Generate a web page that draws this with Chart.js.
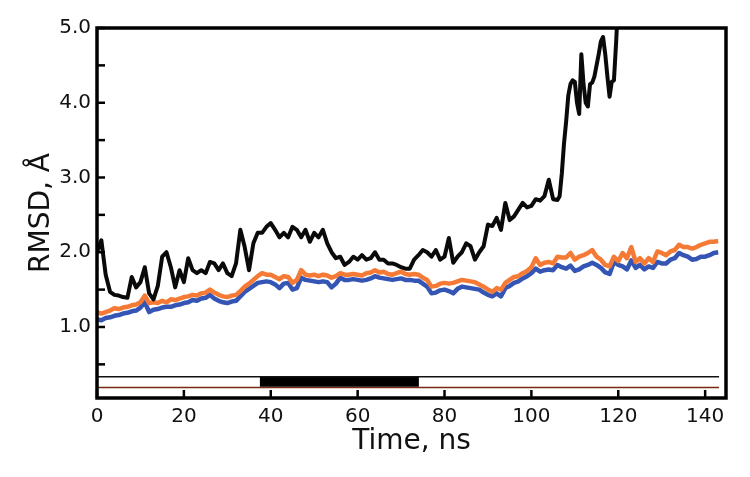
<!DOCTYPE html>
<html>
<head>
<meta charset="utf-8">
<script src="https://cdn.jsdelivr.net/npm/chart.js@4.4.1/dist/chart.umd.min.js"></script>
<style>
  body { margin: 0; background: #fff; }
  #wrap { width: 750px; height: 477px; }
</style>
</head>
<body>
<div id="wrap"><canvas id="rmsdChart"></canvas></div>
<script>
// time axis (ns) for the orange and blue traces
const timeNs = [
  0,1,2,3,4,5,6,7,8,9,10,11,12,13,14,15,16,17,18,19,
  20,21,22,23,24,25,26,27,28,29,30,31,32,33,34,35,36,37,38,39,
  40,41,42,43,44,45,46,47,48,49,50,51,52,53,54,55,56,57,58,59,
  60,61,62,63,64,65,66,67,68,69,70,71,72,73,74,75,76,77,78,79,
  80,81,82,83,84,85,86,87,88,89,90,91,92,93,94,95,96,97,98,99,
  100,101,102,103,104,105,106,107,108,109,110,111,112,113,114,115,116,117,118,119,
  120,121,122,123,124,125,126,127,128,129,130,131,132,133,134,135,136,137,138,139,
  140,141,142,143
];
const orangeRmsd = [
  1.20,1.18,1.20,1.22,1.25,1.24,1.26,1.27,1.29,1.30,1.33,1.42,1.32,1.33,1.32,1.35,1.33,1.37,1.36,1.38,
  1.40,1.41,1.43,1.42,1.45,1.46,1.50,1.46,1.43,1.41,1.40,1.42,1.43,1.48,1.54,1.58,1.63,1.68,1.72,1.70,
  1.70,1.67,1.64,1.68,1.67,1.59,1.63,1.76,1.70,1.69,1.70,1.68,1.70,1.69,1.66,1.68,1.72,1.70,1.70,1.71,
  1.70,1.69,1.72,1.73,1.76,1.73,1.74,1.71,1.70,1.72,1.74,1.71,1.70,1.71,1.70,1.66,1.63,1.54,1.55,1.58,
  1.59,1.58,1.59,1.61,1.63,1.62,1.61,1.60,1.57,1.54,1.50,1.47,1.52,1.50,1.59,1.63,1.67,1.68,1.72,1.75,
  1.80,1.92,1.83,1.86,1.87,1.85,1.94,1.93,1.93,1.99,1.90,1.94,1.96,1.99,2.03,1.94,1.90,1.83,1.81,1.94,
  1.88,1.99,1.92,2.07,1.87,1.92,1.85,1.92,1.87,2.01,1.99,1.96,2.01,2.03,2.10,2.07,2.07,2.05,2.07,2.10,
  2.12,2.14,2.14,2.15
];
const blueRmsd = [
  1.10,1.09,1.12,1.13,1.15,1.16,1.18,1.19,1.21,1.22,1.26,1.33,1.20,1.23,1.24,1.26,1.27,1.27,1.29,1.30,
  1.32,1.33,1.36,1.35,1.38,1.39,1.43,1.38,1.35,1.33,1.32,1.34,1.35,1.41,1.47,1.51,1.55,1.59,1.60,1.61,
  1.60,1.57,1.52,1.58,1.59,1.50,1.52,1.66,1.63,1.62,1.61,1.60,1.61,1.60,1.53,1.58,1.66,1.63,1.63,1.64,
  1.63,1.62,1.63,1.65,1.68,1.66,1.65,1.64,1.63,1.64,1.65,1.63,1.63,1.62,1.62,1.58,1.54,1.45,1.46,1.49,
  1.50,1.48,1.45,1.51,1.54,1.53,1.52,1.51,1.50,1.46,1.43,1.41,1.45,1.41,1.52,1.55,1.59,1.61,1.65,1.68,
  1.72,1.78,1.74,1.76,1.77,1.76,1.83,1.80,1.78,1.82,1.75,1.77,1.81,1.83,1.86,1.83,1.79,1.73,1.71,1.87,
  1.83,1.81,1.77,1.89,1.79,1.83,1.77,1.81,1.79,1.87,1.85,1.85,1.90,1.92,1.99,1.96,1.94,1.90,1.91,1.94,
  1.94,1.96,1.99,2.00
];
// black trace, finer sampling in the fast rise near the end
const blackTimeNs = [
  0,1,2,3,4,5,6,7,8,9,10,11,12,13,14,15,16,17,18,19,
  20,21,22,23,24,25,26,27,28,29,30,31,32,33,34,35,36,37,38,39,
  40,41,42,43,44,45,46,47,48,49,50,51,52,53,54,55,56,57,58,59,
  60,61,62,63,64,65,66,67,68,69,70,71,72,73,74,75,76,77,78,79,
  80,81,82,83,84,85,86,87,88,89,90,91,92,93,94,95,96,97,98,99,
  100,101,102,103,104,105,106,
  106.5,107,107.5,108,108.5,109,109.5,110,110.5,111,111.5,112,112.5,113,113.5,
  114,114.5,115,115.5,116,116.5,117,117.5,118,118.5,119,119.5,120
];
const blackRmsd = [
  2.00,2.16,1.70,1.47,1.43,1.42,1.40,1.39,1.67,1.53,1.60,1.80,1.45,1.37,1.55,1.94,2.00,1.80,1.53,1.76,
  1.60,1.92,1.76,1.72,1.76,1.72,1.87,1.85,1.76,1.85,1.72,1.68,1.85,2.30,2.07,1.76,2.12,2.26,2.26,2.34,
  2.39,2.30,2.20,2.26,2.20,2.34,2.30,2.20,2.30,2.14,2.26,2.20,2.30,2.12,2.00,1.92,1.94,1.83,1.87,1.94,
  1.90,1.96,1.90,1.92,2.00,1.90,1.90,1.85,1.85,1.83,1.80,1.78,1.78,1.90,1.96,2.03,2.00,1.94,2.03,1.90,
  1.94,2.19,1.86,1.94,2.00,2.12,2.08,1.90,2.00,2.08,2.37,2.35,2.46,2.30,2.66,2.43,2.48,2.57,2.66,2.60,
  2.62,2.71,2.69,2.75,2.97,2.71,2.70,
  2.75,3.05,3.45,3.75,4.10,4.25,4.30,4.28,4.00,3.85,4.65,4.25,4.00,3.95,4.25,
  4.27,4.35,4.50,4.65,4.82,4.88,4.65,4.35,4.08,4.28,4.30,4.80,5.40
];
// bottom state bars: thin black line, thick black segment, thin brown line
const stateLineTop = { start: 0, end: 143.2, level: 0.335 };
const stateBlock = { start: 37.5, end: 74.1, level: 0.268 };
const stateLineBottom = { start: 0, end: 143.2, level: 0.19 };

const xTickValues = [0, 20, 40, 60, 80, 100, 120, 140];
const yTickValues = [0.5, 1.0, 1.5, 2.0, 2.5, 3.0, 3.5, 4.0, 4.5, 5.0];
const yLabelled = [1.0, 2.0, 3.0, 4.0, 5.0];

function toPoints(xs, ys) {
  return xs.map((x, i) => ({ x: x, y: ys[i] }));
}
function segment(s) {
  return [{ x: s.start, y: s.level }, { x: s.end, y: s.level }];
}

// frame and inward ticks, drawn from the scales
const framePlugin = {
  id: 'frame',
  afterDatasetsDraw(chart) {
    const { ctx, chartArea: a, scales } = chart;
    ctx.save();
    ctx.strokeStyle = '#000';
    ctx.lineWidth = 2.5;
    ctx.lineCap = 'butt';
    xTickValues.forEach(v => {
      const px = scales.x.getPixelForValue(v);
      ctx.beginPath();
      ctx.moveTo(px, a.bottom);
      ctx.lineTo(px, a.bottom - 8);
      ctx.stroke();
    });
    yTickValues.forEach(v => {
      const py = scales.y.getPixelForValue(v);
      ctx.beginPath();
      ctx.moveTo(a.left, py);
      ctx.lineTo(a.left + 8, py);
      ctx.stroke();
    });
    ctx.lineWidth = 3.5;
    ctx.strokeRect(a.left, a.top, a.right - a.left, a.bottom - a.top);
    ctx.restore();
  }
};

const lineBase = { pointRadius: 0, tension: 0, borderJoinStyle: 'round', fill: false };

new Chart(document.getElementById('rmsdChart'), {
  type: 'line',
  data: {
    datasets: [
      Object.assign({ label: 'black', data: toPoints(blackTimeNs, blackRmsd), borderColor: '#0a0a0a', borderWidth: 4, order: 0 }, lineBase),
      Object.assign({ label: 'orange', data: toPoints(timeNs, orangeRmsd), borderColor: '#f47a35', borderWidth: 4.5, order: 1 }, lineBase),
      Object.assign({ label: 'blue', data: toPoints(timeNs, blueRmsd), borderColor: '#3455b4', borderWidth: 4.5, order: 2 }, lineBase),
      Object.assign({ label: 'state1', data: segment(stateLineTop), borderColor: '#111', borderWidth: 1.5, order: 3 }, lineBase),
      Object.assign({ label: 'state2', data: segment(stateBlock), borderColor: '#000', borderWidth: 10, borderCapStyle: 'butt', order: 3 }, lineBase),
      Object.assign({ label: 'state3', data: segment(stateLineBottom), borderColor: '#7a2a14', borderWidth: 1.5, order: 3 }, lineBase)
    ]
  },
  options: {
    responsive: true,
    maintainAspectRatio: false,
    animation: false,
    layout: { padding: { top: 28, right: 24, left: 0, bottom: 0 } },
    plugins: { legend: { display: false }, tooltip: { enabled: false } },
    scales: {
      x: {
        type: 'linear',
        min: 0,
        max: 144.8,
        grid: { display: false, drawTicks: false },
        border: { display: false },
        afterBuildTicks: s => { s.ticks = xTickValues.map(v => ({ value: v })); },
        afterFit: s => { s.height = 79; },
        ticks: {
          color: '#111',
          padding: 7,
          maxRotation: 0,
          font: { family: 'DejaVu Sans', size: 20 },
          callback: v => String(v)
        },
        title: {
          display: true,
          text: 'Time, ns',
          color: '#111',
          font: { family: 'DejaVu Sans', size: 28 },
          padding: { top: 0, bottom: 18 }
        }
      },
      y: {
        type: 'linear',
        min: 0.05,
        max: 5.0,
        grid: { display: false, drawTicks: false },
        border: { display: false },
        afterBuildTicks: s => { s.ticks = yTickValues.map(v => ({ value: v })); },
        afterFit: s => { s.width = 97; },
        ticks: {
          color: '#111',
          padding: 6,
          font: { family: 'DejaVu Sans', size: 20 },
          callback: v => yLabelled.includes(v) ? v.toFixed(1) : ''
        },
        title: {
          display: true,
          text: 'RMSD, Å',
          color: '#111',
          font: { family: 'DejaVu Sans', size: 28 },
          padding: { top: 25, bottom: 0 }
        }
      }
    }
  },
  plugins: [framePlugin]
});
</script>
</body>
</html>
